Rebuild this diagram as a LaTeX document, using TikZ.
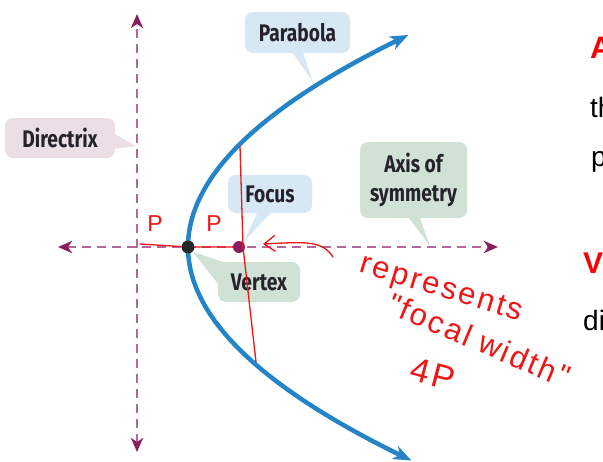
\documentclass[tikz,border=0pt]{standalone}
\usepackage{fontspec}
\setmainfont{Liberation Sans}
\newfontfamily\tagfont[FakeStretch=0.8]{Fira Sans}
\newfontfamily\handfont[LetterSpace=8]{Liberation Sans}
\usetikzlibrary{arrows.meta}
\definecolor{tagblue}{RGB}{214,232,243}
\definecolor{tagpink}{RGB}{236,222,229}
\definecolor{taggreen}{RGB}{208,226,214}
\definecolor{tagtext}{RGB}{38,34,44}
\definecolor{curveblue}{RGB}{36,132,199}
\definecolor{dashpurple}{RGB}{180,104,154}
\definecolor{tippurple}{RGB}{135,30,95}
\definecolor{inkred}{RGB}{240,20,20}
\definecolor{headred}{RGB}{250,0,0}

\begin{document}
\begin{tikzpicture}[x=1pt, y=-1pt,
  tag/.style={rounded corners=8pt, inner sep=0pt, text=tagtext, align=center,
    font=\tagfont\bfseries\fontsize{24}{29}\selectfont},
  guide/.style={dashpurple, line width=2.6pt, dash pattern=on 9pt off 6pt,
    {Stealth[length=14pt,width=12pt,inset=4pt,color=tippurple]}-{Stealth[length=14pt,width=12pt,inset=4pt,color=tippurple]}},
  curve/.style={curveblue, line width=4.5pt,
    {Stealth[length=18pt,width=14pt,inset=5pt]}-{Stealth[length=18pt,width=14pt,inset=5pt]}},
  dot/.style={circle, inner sep=0pt, minimum size=13pt},
  ink/.style={inkred, line width=1.3pt, line cap=round, line join=round},
  handtext/.style={inkred, inner sep=1pt, font=\handfont\fontsize{31}{31}\selectfont},
  side/.style={anchor=base west, inner sep=0pt}]
\useasboundingbox (0,0) rectangle (603,461);
\clip (0,0) rectangle (603,461);

% directrix and axis of symmetry
\coordinate (dtop) at (137,14);
\coordinate (dbot) at (137,452);
\coordinate (aleft) at (58,247);
\coordinate (aright) at (498,247);
\draw[guide] (dbot) -- (dtop);
\draw[guide] (aleft) -- (aright);

% the parabola, focus p = 51 from the vertex
\draw[curve] plot[smooth, samples=61, domain=-21.2:21.35] ({188+\x*\x/2.04},{247+10*\x});

% callouts
\coordinate (ptip) at (313,82);
\coordinate (dtip) at (136,146);
\coordinate (atip) at (430,246);
\node[tag, fill=tagblue, minimum width=105pt, minimum height=41pt] (parab) at (297.5,32.5) {Parabola};
\fill[tagblue] ([xshift=-6pt,yshift=2pt]parab.south) -- ([xshift=5pt,yshift=2pt]parab.south) -- (ptip) -- cycle;
\node[tag, fill=tagpink, minimum width=110pt, minimum height=40pt] (direc) at (60,138) {Directrix};
\fill[tagpink] ([xshift=-2pt,yshift=5pt]direc.east) -- ([xshift=-2pt,yshift=-11pt]direc.east) -- (dtip) -- cycle;
\node[tag, fill=taggreen, minimum width=107pt, minimum height=76pt] (axis) at (413.5,180) {Axis of\\symmetry};
\fill[taggreen] ([xshift=-6pt,yshift=2pt]axis.south) -- ([xshift=6pt,yshift=2pt]axis.south) -- (atip) -- cycle;

\node[dot, fill=black!85] (vertex) at (188,247) {};
\node[dot, fill=tippurple, minimum size=12pt] (focus) at (239,247) {};

\node[tag, fill=tagblue, minimum width=84pt, minimum height=38pt] (foclbl) at (270,194) {Focus};
\fill[tagblue] ([xshift=-12pt,yshift=2pt]foclbl.south) -- ([xshift=2pt,yshift=2pt]foclbl.south) -- (focus.north east) -- cycle;
\node[tag, fill=taggreen, minimum width=82pt, minimum height=40pt] (verlbl) at (259,282) {Vertex};
\fill[taggreen] ([xshift=8pt,yshift=-1pt]verlbl.north west) -- ([xshift=1pt,yshift=-23pt]verlbl.north west) -- (vertex.south east) -- cycle;

% handwritten notes
\draw[ink] (140,244) -- (vertex) -- (focus);
\draw[ink] (240,146) -- (243,247) -- (256,362);
\coordinate (arrowend) at (263,244);
\draw[ink, -{Straight Barb[length=11pt,width=16pt]}] (333,257) .. controls (322,240) and (305,242) .. (arrowend);
\node[handtext, font=\handfont\fontsize{23}{23}\selectfont] (pleft) at (155,224) {P};
\node[handtext, font=\handfont\fontsize{23}{23}\selectfont] (pright) at (214,224) {P};
\node[handtext, rotate=-17] (rep) at (441,290) {represents};
\node[handtext, rotate=-23] (fwidth) at (479,340) {"focal\hspace{10pt}width"};
\node[handtext, rotate=-15, font=\handfont\fontsize{34}{34}\selectfont] (fourp) at (433,374) {4P};

% text cut off at the right edge
\node[side, headred, font=\bfseries\fontsize{31}{31}\selectfont] (headA) at (590,58) {A};
\node[side, font=\fontsize{28}{28}\selectfont] (lineth) at (590,117) {th};
\node[side, font=\fontsize{28}{28}\selectfont] (linep) at (591,166) {p};
\node[side, headred, font=\bfseries\fontsize{30}{30}\selectfont] (headV) at (583,273) {V};
\node[side, font=\fontsize{28}{28}\selectfont] (linedi) at (583,330) {di};
\end{tikzpicture}
\end{document}
